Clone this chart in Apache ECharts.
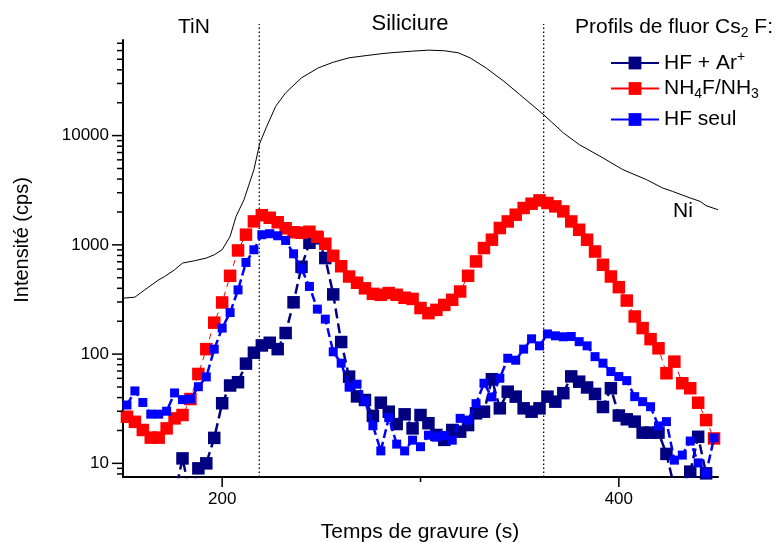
<!DOCTYPE html>
<html><head><meta charset="utf-8">
<script src="https://cdn.jsdelivr.net/npm/echarts@6/dist/echarts.min.js"></script>
<style>html,body{margin:0;padding:0;background:#fff}#c{width:778px;height:542px}</style>
</head><body><div id="c"></div>
<script>
// ---- data ----
const times = [152,156,160,164,168,172,176,180,184,188,192,196,200,204,208,212,216,220,224,228,232,236,240,244,248,252,256,260,264,268,272,276,280,284,288,292,296,300,304,308,312,316,320,324,328,332,336,340,344,348,352,356,360,364,368,372,376,380,384,388,392,396,400,404,408,412,416,420,424,428,432,436,440,444,448];
const hfAr = [5,5,5,5,5,5,5,11.1,5,9.0,10.0,17.1,35.5,51.6,55.3,81.8,103,120,127,111,156,298,630,1045,1150,757,352,129,62.2,41.0,38,27.2,35.9,29.7,22.9,28.1,20.9,27.7,23.3,18.2,16.4,20.2,19.5,22.4,28.7,29.7,58.9,31.9,45.3,40.8,31.9,29.7,31.9,40.8,36.7,43.9,62.5,55.9,49.5,43.2,32.8,48.7,27.4,25.3,24.1,19.1,19.1,19.1,12.2,6,6,8.4,17.5,8.1,6];
const nh4f = [26.7,24.0,20.2,17.2,17.2,20.9,25.8,27.7,38.8,65.8,111,194,297,521,889,1240,1639,1868,1770,1610,1419,1304,1291,1318,1186,1023,794,637,513,450,400,356,349,362,349,328,320,264,237,254,282,314,374,521,705,935,1115,1426,1638,1887,2174,2381,2552,2415,2249,2024,1638,1374,1114,869,657,513,410,309,221,173,137,113,66.8,85.3,54.1,48.7,35.9,24.9,16.9];
const hfSeul = [34.2,46.0,36.1,28.2,28.2,30.0,44.1,38.3,38.8,50.3,61.8,111,173,240,387,690,902,1238,1264,1211,1097,828,600,416,258,209,105,82.6,49.8,53.0,37.2,22.1,13.0,26.2,15.0,13.0,16.3,14.2,18.1,17.4,18.0,16.3,25.8,24.9,35.2,54.1,40.5,60.1,91.6,87.9,111,138,119,153,147,144,145,130,119,94.8,82.6,69.2,62.3,57.2,40.8,36.7,33.0,22.0,24.1,10.7,11.9,16.0,10.1,8.1,17.1];
const niTimes = [150,156,161,168,171,176,180,186,192,196,200,204,207,211,216,219,222.5,227,232,240,248.5,256,264,273,280,285,296,304,312,319,325,333,342,350,362,372,380,392,402,414,422,427,436,441,444,450];
const niValues = [325,332,388,478,513,591,681,715,757,811,902,1194,1820,2588,4875,8570,12170,18560,24620,33800,41700,46950,51530,54100,56100,57300,59300,60550,59800,57300,51500,41700,31450,23800,15600,10600,8280,6250,4880,3950,3320,3090,2684,2500,2282,2097];
const xTickLabels = [200, 400];
const xMinorTicks = [300];
const yTickLabels = [10, 100, 1000, 10000];
const yMinorTicks = [8,9,20,30,40,50,60,70,80,90,200,300,400,500,600,700,800,900,2000,3000,4000,5000,6000,7000,8000,9000,20000,30000,40000,50000,60000,70000];
const markerTimes = [218.7, 362.1];
const seriesNames = ['HF + Ar+', 'NH4F/NH3', 'HF seul'];
const legendLabels = {'HF + Ar+': 'HF + Ar{sup|+}', 'NH4F/NH3': 'NH{sub|4}F/NH{sub|3}', 'HF seul': 'HF seul'};

// ---- config ----
const X_MIN = 150, X_MAX = 450, Y_MIN = 7.5, Y_MAX = 75000;
const FONT = "'Liberation Sans', Arial, Helvetica, sans-serif";
const rich = {
  sub: {fontSize: 14, fontFamily: FONT, color: '#000', padding: [12, 0, 0, 0]},
  sup: {fontSize: 14, fontFamily: FONT, color: '#000', padding: [0, 0, 12, 0]}
};
const pairs = (xs, ys) => xs.map((x, i) => [x, ys[i]]);

const tickData = [];
xTickLabels.forEach(v => tickData.push([v, Y_MIN, 0]));
xMinorTicks.forEach(v => tickData.push([v, Y_MIN, 1]));
yTickLabels.forEach(v => tickData.push([X_MIN, v, 2]));
yMinorTicks.forEach(v => tickData.push([X_MIN, v, 3]));

const chart = echarts.init(document.getElementById('c'), null, {renderer: 'canvas'});
const legendTops = [50, 78, 109];

chart.setOption({
  animation: false,
  backgroundColor: '#fff',
  textStyle: {fontFamily: FONT},
  grid: {left: 123, right: 60, top: 40, bottom: 65, containLabel: false, outerBoundsMode: 'none'},
  xAxis: {
    type: 'value', min: X_MIN, max: X_MAX, interval: 50,
    axisLine: {show: true, onZero: false, lineStyle: {color: '#000', width: 2}},
    axisTick: {show: false}, splitLine: {show: false},
    axisLabel: {color: '#000', fontSize: 17, fontFamily: FONT, margin: 14,
      formatter: v => xTickLabels.includes(Math.round(v)) ? String(Math.round(v)) : ''}
  },
  yAxis: {
    type: 'log', logBase: 10, min: Y_MIN, max: Y_MAX,
    axisLine: {show: true, lineStyle: {color: '#000', width: 2}},
    axisTick: {show: false}, splitLine: {show: false}, minorSplitLine: {show: false},
    axisLabel: {color: '#000', fontSize: 17, fontFamily: FONT, margin: 14, showMinLabel: false, showMaxLabel: false,
      formatter: v => yTickLabels.includes(Math.round(v)) ? String(Math.round(v)) : ''}
  },
  legend: seriesNames.map((n, i) => ({
    data: [n], orient: 'vertical', left: 610, top: legendTops[i], padding: 0,
    itemWidth: 48, itemHeight: 16, selectedMode: false,
    lineStyle: {type: 'solid'},
    textStyle: {fontSize: 21, fontFamily: FONT, color: '#000', rich: rich},
    formatter: name => legendLabels[name]
  })),
  graphic: [
    {type: 'text', x: 194, y: 27, style: {text: 'TiN', fontSize: 21, fontFamily: FONT, fill: '#000', align: 'center', verticalAlign: 'middle', textAlign: 'center', textVerticalAlign: 'middle'}},
    {type: 'text', x: 410, y: 23.5, style: {text: 'Siliciure', fontSize: 22, fontFamily: FONT, fill: '#000', align: 'center', verticalAlign: 'middle', textAlign: 'center', textVerticalAlign: 'middle'}},
    {type: 'text', x: 575, y: 27.5, style: {text: 'Profils de fluor Cs{sub|2} F:', rich: rich, fontSize: 21, fontFamily: FONT, fill: '#000', align: 'left', verticalAlign: 'middle', textAlign: 'left', textVerticalAlign: 'middle'}},
    {type: 'text', x: 683, y: 211, style: {text: 'Ni', fontSize: 21, fontFamily: FONT, fill: '#000', align: 'center', verticalAlign: 'middle', textAlign: 'center', textVerticalAlign: 'middle'}},
    {type: 'text', x: 420, y: 532, style: {text: 'Temps de gravure (s)', fontSize: 21, fontFamily: FONT, fill: '#000', align: 'center', verticalAlign: 'middle', textAlign: 'center', textVerticalAlign: 'middle'}},
    {type: 'text', x: 22, y: 240, rotation: Math.PI / 2, style: {text: 'Intensité (cps)', fontSize: 20, fontFamily: FONT, fill: '#000', align: 'center', verticalAlign: 'middle', textAlign: 'center', textVerticalAlign: 'middle'}}
  ],
  series: [
    {name: 'Ni', type: 'line', data: pairs(niTimes, niValues), showSymbol: false, symbol: 'none',
      lineStyle: {color: '#000', width: 1}, itemStyle: {color: '#000'}, clip: true, silent: true, z: 1},
    {name: seriesNames[0], type: 'line', data: pairs(times, hfAr), symbol: 'rect', symbolSize: 12.5,
      itemStyle: {color: '#000080'}, lineStyle: {color: '#000080', width: 2.5, type: [10, 5]}, clip: true, z: 2},
    {name: seriesNames[1], type: 'line', data: pairs(times, nh4f), symbol: 'rect', symbolSize: 12.5,
      itemStyle: {color: '#ff0000'}, lineStyle: {color: '#ff0000', width: 1, type: [6, 5]}, clip: true, z: 3},
    {name: seriesNames[2], type: 'line', data: pairs(times, hfSeul), symbol: 'rect', symbolSize: 9,
      itemStyle: {color: '#0000ff'}, lineStyle: {color: '#0000ff', width: 2.5, type: [9, 4]}, clip: true, z: 4},
    {name: 'ticks', type: 'custom', data: tickData, silent: true, z: 10,
      renderItem: (params, api) => {
        const kind = api.value(2);
        const p = api.coord([api.value(0), api.value(1)]);
        let shape;
        if (kind < 2) {
          const len = kind === 0 ? 10 : 5;
          shape = {x1: p[0], y1: p[1], x2: p[0], y2: p[1] + len};
        } else {
          const len = kind === 2 ? 11 : 6;
          shape = {x1: p[0] - len, y1: p[1], x2: p[0], y2: p[1]};
        }
        return {type: 'line', shape: shape, style: {stroke: '#000', lineWidth: 1.5}};
      }},
    {name: 'markers', type: 'custom', data: markerTimes.map(t => [t, Y_MIN]), silent: true, z: 0,
      renderItem: (params, api) => {
        const p = api.coord([api.value(0), Y_MIN]);
        const top = api.coord([api.value(0), Y_MAX])[1] - 16;
        return {type: 'line', shape: {x1: p[0], y1: p[1], x2: p[0], y2: top},
          style: {stroke: '#000', lineWidth: 1.3, lineDash: [1.5, 2.5]}};
      }}
  ]
});
</script></body></html>
